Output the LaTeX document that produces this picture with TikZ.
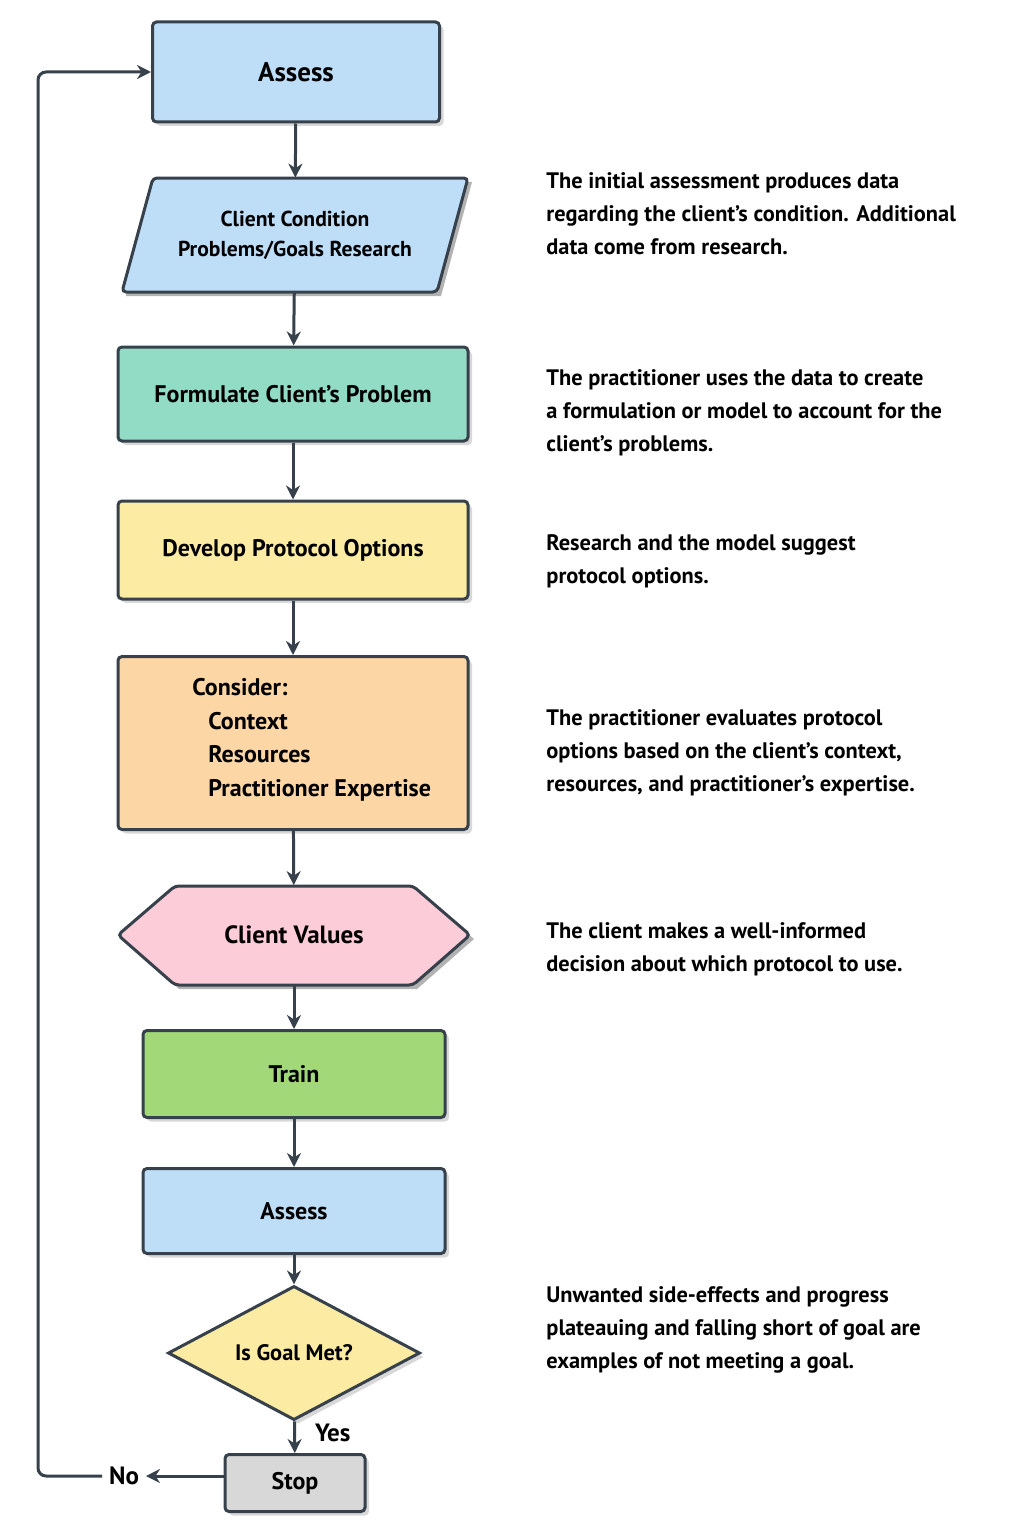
\documentclass[tikz,border=0pt]{standalone}
\usepackage{fontspec}
\setmainfont{PT Sans}
\usetikzlibrary{shapes.geometric, arrows.meta, shadows, positioning}
\definecolor{edge-color}{HTML}{37414B}
\definecolor{blue-fill}{HTML}{BEDDF7}
\definecolor{teal-fill}{HTML}{92DCC6}
\definecolor{yellow-fill}{HTML}{FCEBA2}
\definecolor{orange-fill}{HTML}{FDD6A6}
\definecolor{pink-fill}{HTML}{FCCCD8}
\definecolor{green-fill}{HTML}{A2D877}
\definecolor{gray-fill}{HTML}{D8D8D8}
\tikzset{
    box/.style = {draw=edge-color, line width=1.5pt, rounded corners=2pt,
        drop shadow={shadow xshift=2pt, shadow yshift=-2pt, opacity=.3},
        align=center, inner sep=0pt},
    ghost/.style = {inner sep=0pt, align=center},
    flow/.style = {-{Stealth[length=7pt,width=7pt]}, line width=1.5pt, draw=edge-color},
    note/.style = {anchor=north west, align=left, font=\bfseries\fontsize{11.2}{16.5}\selectfont, inner sep=0pt},
}
\begin{document}
\begin{tikzpicture}[x=0.5pt, y=0.5pt, font=\bfseries]
\useasboundingbox[fill=white] (0,0) rectangle (1024,-1536);

% boxes down the middle
\node[box, fill=blue-fill, minimum width=143.5pt, minimum height=50pt, font=\bfseries\fontsize{13.5}{16}\selectfont]
    (assess) at (296,-72) {Assess};

\fill[black, opacity=.3, shift={(4,-4)}] (153,-178) -- (468,-178) -- (437,-292) -- (122,-292) -- cycle;
\draw[fill=blue-fill, draw=edge-color, line width=1.5pt, rounded corners=2pt]
    (153,-178) -- (468,-178) -- (437,-292) -- (122,-292) -- cycle;
\node[ghost, minimum width=173pt, minimum height=57pt, font=\bfseries\fontsize{10.8}{15}\selectfont]
    (cond) at (295,-235) {Client Condition\\Problems/Goals Research};

\node[box, fill=teal-fill, minimum width=175pt, minimum height=47pt, font=\bfseries\fontsize{12}{16}\selectfont]
    (formulate) at (293,-394) {Formulate Client’s Problem};
\node[box, fill=yellow-fill, minimum width=175pt, minimum height=49pt, font=\bfseries\fontsize{12}{16}\selectfont]
    (develop) at (293,-550) {Develop Protocol Options};
\node[box, fill=orange-fill, minimum width=175pt, minimum height=86.5pt]
    (consider) at (293,-743) {};
\node[anchor=north west, align=left, inner sep=0pt, font=\bfseries\fontsize{12}{16.8}\selectfont]
    (considertext) at (192,-678) {Consider:\\\hspace{8pt}Context\\\hspace{8pt}Resources\\\hspace{8pt}Practitioner Expertise};

\fill[black, opacity=.3, shift={(4,-4)}] (118,-935) -- (175,-886) -- (413,-886) -- (470,-935) -- (413,-985) -- (175,-985) -- cycle;
\draw[fill=pink-fill, draw=edge-color, line width=1.5pt, rounded corners=2pt]
    (118,-935) -- (175,-886) -- (413,-886) -- (470,-935) -- (413,-985) -- (175,-985) -- cycle;
\node[ghost, minimum width=176pt, minimum height=49.5pt, font=\bfseries\fontsize{12.5}{16}\selectfont]
    (values) at (294,-935) {Client Values};

\node[box, fill=green-fill, minimum width=151pt, minimum height=43.5pt, font=\bfseries\fontsize{12}{16}\selectfont]
    (train) at (294,-1074) {Train};
\node[box, fill=blue-fill, minimum width=151pt, minimum height=42.5pt, font=\bfseries\fontsize{12}{16}\selectfont]
    (assess2) at (294,-1211) {Assess};
\node[box, diamond, rounded corners=0pt, fill=yellow-fill, minimum width=126pt, minimum height=57pt, font=\bfseries\fontsize{11.2}{16}\selectfont]
    (goal) at (294,-1353) {Is Goal Met?};
\node[box, fill=gray-fill, minimum width=70pt, minimum height=28.5pt, font=\bfseries\fontsize{12}{16}\selectfont]
    (stop) at (295,-1483) {Stop};

\node[font=\bfseries\fontsize{12.5}{16}\selectfont, anchor=west] (yes) at (308,-1433) {Yes};
\node[font=\bfseries\fontsize{12.5}{16}\selectfont] (no) at (124,-1476) {No};
\coordinate (turn-low) at (38,-1476);
\coordinate (turn-high) at (38,-72);

% connectors
\draw[flow] (assess) -- (cond);
\draw[flow] (cond) -- (formulate);
\draw[flow] (formulate) -- (develop);
\draw[flow] (develop) -- (consider);
\draw[flow] (consider) -- (values);
\draw[flow] (values) -- (train);
\draw[flow] (train) -- (assess2);
\draw[flow] (assess2) -- (goal);
\draw[flow] (goal) -- (stop);
\draw[flow] (stop.west |- no) -- (no);
\draw[flow, rounded corners=4pt] (no.west) -- (turn-low) -- (turn-high) -- (assess.west);

% notes
\node[note] (note1) at (546,-172) {The initial assessment produces data\\regarding the client’s condition. Additional\\data come from research.};
\node[note] (note2) at (546,-369) {The practitioner uses the data to create\\a formulation or model to account for the\\client’s problems.};
\node[note] (note3) at (546,-534) {Research and the model suggest\\protocol options.};
\node[note] (note4) at (546,-709) {The practitioner evaluates protocol\\options based on the client’s context,\\resources, and practitioner’s expertise.};
\node[note] (note5) at (546,-922) {The client makes a well-informed\\decision about which protocol to use.};
\node[note] (note6) at (546,-1286) {Unwanted side-effects and progress\\plateauing and falling short of goal are\\examples of not meeting a goal.};
\end{tikzpicture}
\end{document}
